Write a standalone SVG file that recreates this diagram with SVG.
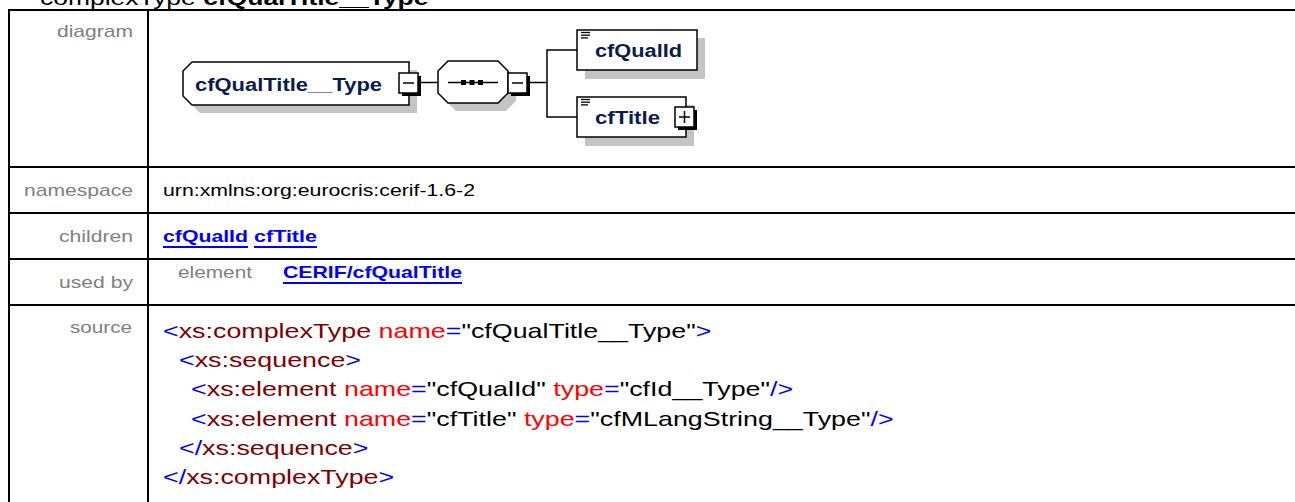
<svg xmlns="http://www.w3.org/2000/svg" width="1295" height="502" viewBox="0 0 1295 502">
<style>
.grid{stroke:#000;stroke-width:2;fill:none}
.lbl{font-family:"Liberation Sans",Arial,sans-serif;font-size:17px;fill:#808080}
.val{font-family:"Liberation Sans",Arial,sans-serif;font-size:17px;fill:#000}
.lnk{font-family:"Liberation Sans",Arial,sans-serif;font-size:17px;font-weight:bold;fill:#0000ff}
.ul{stroke:#0000ff;stroke-width:2}
.nt{font-family:"Liberation Sans",Arial,sans-serif;font-size:17.5px;font-weight:bold;fill:#0b1b4d}
.shadow{fill:#c4c4c4}
.box{fill:#fff;stroke:#000;stroke-width:1.5}
.bsh{fill:#000}
.conn{stroke:#000;stroke-width:1.5;fill:none}
.src{font-family:"Liberation Sans",Arial,sans-serif;font-size:20.5px}
.b{fill:#0000ff}.t{fill:#800000}.a{fill:#ff0000}.v{fill:#000}
.ic{stroke:#000;stroke-width:1.3}
</style>

<g id="title" transform="translate(40,5) scale(1.323,1)">
<text x="0" y="0" style="font-family:'Liberation Sans',Arial,sans-serif;font-size:20px;fill:#000">complexType <tspan font-weight="bold">cfQualTitle__Type</tspan></text>
</g>

<g id="table">
<line class="grid" x1="9" y1="10" x2="1295" y2="10"/>
<line class="grid" x1="9" y1="167" x2="1295" y2="167"/>
<line class="grid" x1="9" y1="213" x2="1295" y2="213"/>
<line class="grid" x1="9" y1="259" x2="1295" y2="259"/>
<line class="grid" x1="9" y1="305" x2="1295" y2="305"/>
<line class="grid" x1="9" y1="9" x2="9" y2="502"/>
<line class="grid" x1="148" y1="9" x2="148" y2="502"/>
</g>

<g id="labels">
<text class="lbl" x="57" y="37" textLength="76" lengthAdjust="spacingAndGlyphs">diagram</text>
<text class="lbl" x="24" y="196" textLength="109" lengthAdjust="spacingAndGlyphs">namespace</text>
<text class="lbl" x="59" y="242" textLength="74" lengthAdjust="spacingAndGlyphs">children</text>
<text class="lbl" x="59" y="288" textLength="74" lengthAdjust="spacingAndGlyphs">used by</text>
<text class="lbl" x="70" y="333" textLength="62" lengthAdjust="spacingAndGlyphs">source</text>
</g>

<g id="values">
<text class="val" x="163" y="196" textLength="312" lengthAdjust="spacingAndGlyphs">urn:xmlns:org:eurocris:cerif-1.6-2</text>
<text class="lnk" x="163" y="242" textLength="85" lengthAdjust="spacingAndGlyphs">cfQualId</text>
<line class="ul" x1="163" y1="247" x2="248" y2="247"/>
<text class="lnk" x="254" y="242" textLength="63" lengthAdjust="spacingAndGlyphs">cfTitle</text>
<line class="ul" x1="254" y1="247" x2="317" y2="247"/>
<text class="lbl" x="178" y="278" textLength="74" lengthAdjust="spacingAndGlyphs">element</text>
<text class="lnk" x="283" y="278" textLength="179" lengthAdjust="spacingAndGlyphs">CERIF/cfQualTitle</text>
<line class="ul" x1="283" y1="283" x2="462" y2="283"/>
</g>

<g id="source" transform="translate(163,0) scale(1.31,1)">
<text class="src" x="0" y="338"><tspan class="b">&lt;</tspan><tspan class="t">xs:complexType</tspan><tspan class="a"> name</tspan><tspan class="b">=</tspan><tspan class="v">"cfQualTitle__Type"</tspan><tspan class="b">&gt;</tspan></text>
<text class="src" x="12.2" y="367.2"><tspan class="b">&lt;</tspan><tspan class="t">xs:sequence</tspan><tspan class="b">&gt;</tspan></text>
<text class="src" x="21.4" y="396.4"><tspan class="b">&lt;</tspan><tspan class="t">xs:element</tspan><tspan class="a"> name</tspan><tspan class="b">=</tspan><tspan class="v">"cfQualId"</tspan><tspan class="a"> type</tspan><tspan class="b">=</tspan><tspan class="v">"cfId__Type"</tspan><tspan class="b">/&gt;</tspan></text>
<text class="src" x="21.4" y="425.6"><tspan class="b">&lt;</tspan><tspan class="t">xs:element</tspan><tspan class="a"> name</tspan><tspan class="b">=</tspan><tspan class="v">"cfTitle"</tspan><tspan class="a"> type</tspan><tspan class="b">=</tspan><tspan class="v">"cfMLangString__Type"</tspan><tspan class="b">/&gt;</tspan></text>
<text class="src" x="12.2" y="454.8"><tspan class="b">&lt;/</tspan><tspan class="t">xs:sequence</tspan><tspan class="b">&gt;</tspan></text>
<text class="src" x="0" y="484"><tspan class="b">&lt;/</tspan><tspan class="t">xs:complexType</tspan><tspan class="b">&gt;</tspan></text>
</g>

<g id="connectors">
<line class="conn" x1="421" y1="82.5" x2="438" y2="82.5"/>
<line class="conn" x1="530" y1="82.5" x2="547" y2="82.5"/>
<polyline class="conn" points="577,50 547,50 547,117 577,117"/>
</g>

<g id="node-root">
<path class="shadow" d="M200,70 H417 V113 H200 L191,104 V79 Z"/>
<path d="M192,62 H409 V105 H192 L183,96 V71 Z" fill="#fff" stroke="#000" stroke-width="1.5"/>
<text class="nt" x="195" y="91" textLength="187" lengthAdjust="spacingAndGlyphs">cfQualTitle__Type</text>
<rect class="bsh" x="402" y="76" width="19" height="20"/>
<rect class="box" x="399" y="73" width="19" height="20"/>
<line class="conn" x1="403" y1="83" x2="414" y2="83"/>
</g>

<g id="node-sequence">
<path class="shadow" d="M456,69 H506 L516,79 V101 L506,111 H456 L446,101 V79 Z"/>
<path d="M448,61 H498 L508,71 V93 L498,103 H448 L438,93 V71 Z" fill="#fff" stroke="#000" stroke-width="1.5"/>
<line class="conn" x1="448" y1="82.5" x2="498" y2="82.5"/>
<rect x="461" y="80" width="5" height="5" fill="#000"/>
<rect x="469.5" y="80" width="5" height="5" fill="#000"/>
<rect x="478" y="80" width="5" height="5" fill="#000"/>
<rect class="bsh" x="511" y="76" width="19" height="20"/>
<rect class="box" x="508" y="73" width="19" height="20"/>
<line class="conn" x1="512" y1="83" x2="523" y2="83"/>
</g>

<g id="node-cfQualId">
<rect class="shadow" x="585" y="38" width="120" height="41"/>
<rect x="577" y="30" width="120" height="40" fill="#fff" stroke="#000" stroke-width="1.5"/>
<line class="ic" x1="581" y1="32.5" x2="590" y2="32.5"/>
<line class="ic" x1="581" y1="35.2" x2="590" y2="35.2"/>
<line class="ic" x1="581" y1="37.9" x2="588" y2="37.9"/>
<text class="nt" x="595" y="57" textLength="87" lengthAdjust="spacingAndGlyphs">cfQualId</text>
</g>

<g id="node-cfTitle">
<rect class="shadow" x="585" y="105" width="109" height="41"/>
<rect x="577" y="97" width="109" height="40" fill="#fff" stroke="#000" stroke-width="1.5"/>
<line class="ic" x1="581" y1="99.5" x2="590" y2="99.5"/>
<line class="ic" x1="581" y1="102.2" x2="590" y2="102.2"/>
<line class="ic" x1="581" y1="104.9" x2="588" y2="104.9"/>
<text class="nt" x="595" y="124" textLength="65" lengthAdjust="spacingAndGlyphs">cfTitle</text>
<rect class="bsh" x="678" y="110" width="19" height="20"/>
<rect class="box" x="675" y="107" width="19" height="20"/>
<line class="conn" x1="679" y1="117" x2="690" y2="117"/>
<line class="conn" x1="684.5" y1="111" x2="684.5" y2="123"/>
</g>
</svg>
